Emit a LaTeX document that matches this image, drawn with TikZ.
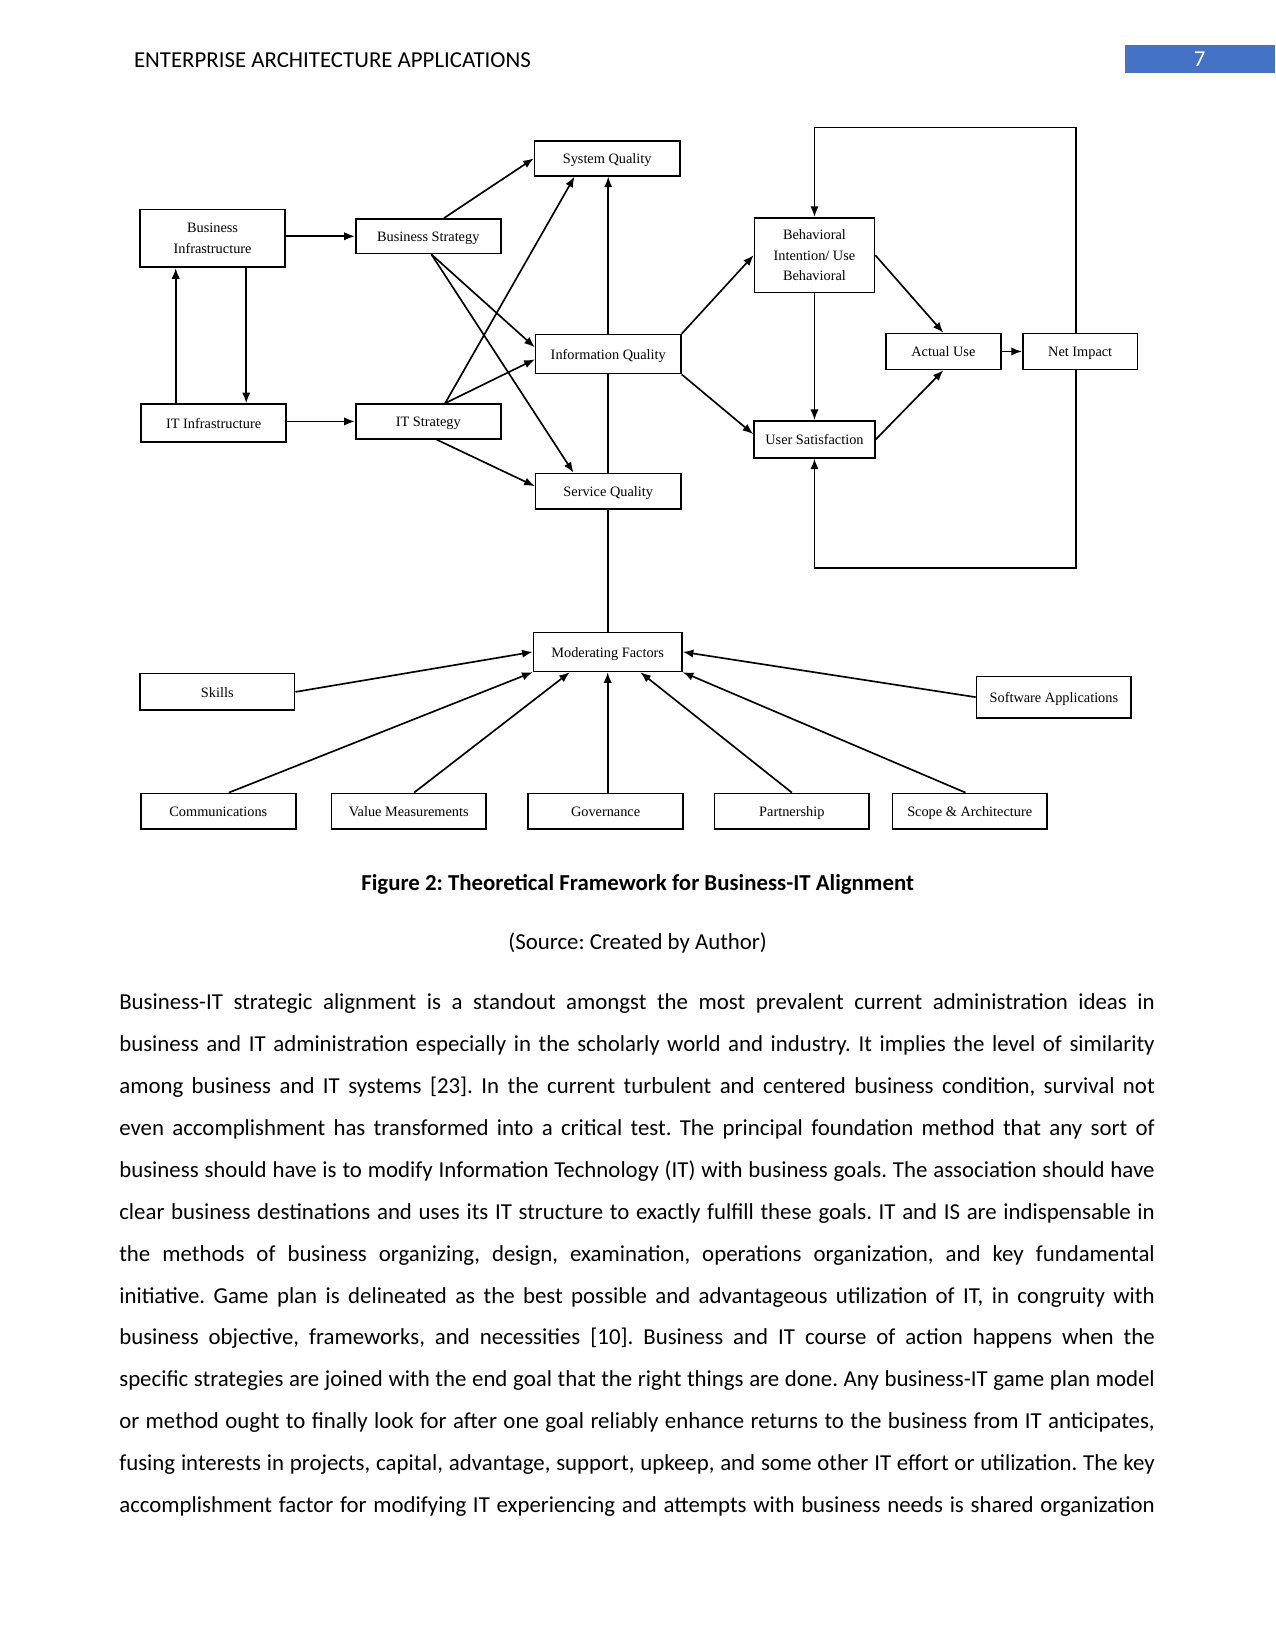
\documentclass[tikz,border=0pt]{standalone}
\usepackage{fontspec}
\setmainfont{Carlito}
\newfontfamily\figfont{Liberation Serif}
\usepackage{tikz}
\usetikzlibrary{calc,positioning,arrows.meta}
\definecolor{hdrblue}{RGB}{68,114,196}
\newcommand{\bodyline}[1]{\makebox[175.3mm][s]{#1}}
\tikzset{
  fwbox/.style={draw, line width=0.8pt, font=\figfont\fontsize{6.9}{10}\selectfont, align=center, inner sep=1pt},
  fwone/.style={fwbox, text height=1.5ex, text depth=0.45ex},
  sz/.style 2 args={minimum width=#1*0.17814mm, minimum height=#2*0.17814mm},
  arr/.style={line width=0.8pt, -{Latex[length=1.8mm,width=1.4mm]}},
  lnk/.style={line width=0.8pt},
}

\begin{document}
\frenchspacing
\begin{tikzpicture}[x=0.17814mm, y=-0.17814mm, font=\fontsize{11}{13.4}\selectfont]
  \fill[white] (0,0) rectangle (1212,1568);
  \useasboundingbox (0,0) rectangle (1212,1568);

  % header
  \node[anchor=west, inner sep=0] (hdr) at (127,57) {ENTERPRISE ARCHITECTURE APPLICATIONS};
  \fill[hdrblue] (1069,43) rectangle (1212,69);
  \node[white] (pgno) at (1140,56) {7};

  % upper part of the framework
  \node[fwbox, sz={138}{55}] (binf) at (202,226.5) {Business\\Infrastructure};
  \node[fwone, sz={138}{33}] (bstr) at (407,224.5) {Business Strategy};
  \node[fwone, sz={138}{36}] (itinf) at (203,402) {IT Infrastructure};
  \node[fwone, sz={138}{33}] (itstr) at (407,400.5) {IT Strategy};
  \node[fwone, sz={138}{33}] (sysq) at (577,150.5) {System Quality};
  \node[fwone, sz={138}{37}] (infoq) at (578,336.5) {Information Quality};
  \node[fwone, sz={138}{34}] (servq) at (578,467) {Service Quality};
  \node[fwbox, sz={114}{71}] (behav) at (774,242.5) {Behavioral\\Intention/ Use\\Behavioral};
  \node[fwone, sz={109}{34}] (actuse) at (896.5,334) {Actual Use};
  \node[fwone, sz={109}{34}] (netimp) at (1026.5,334) {Net Impact};
  \node[fwone, sz={115}{35}] (usat) at (774,417.5) {User Satisfaction};

  % moderating factors
  \node[fwone, sz={141}{37}] (modf) at (577.5,619.5) {Moderating Factors};
  \node[fwone, sz={147}{35}] (skills) at (206.5,657.5) {Skills};
  \node[fwone, sz={147}{39}] (softapp) at (1001.5,662.5) {Software Applications};
  \foreach \nm/\cx/\txt in {comm/207.5/Communications, valm/388.5/Value Measurements,
      gov/575.5/Governance, partn/752.5/Partnership, scope/921.5/Scope \& Architecture}{
    \node[fwone, sz={147}{34}] (\nm) at (\cx,771) {\txt};
  }

  \coordinate (ytop) at (0,121);
  \coordinate (ybot) at (0,540);

  % connectors
  \draw[arr] (binf.east |- bstr.west) -- (bstr.west);
  \draw[arr] (itinf.east |- itstr.west) -- (itstr.west);
  \draw[arr] ($(binf.south)+(32,0)$) -- ($(itinf.north)+(31,0)$);
  \draw[arr] ($(itinf.north)+(-36,0)$) -- ($(binf.south)+(-35,0)$);
  \draw[arr] ($(bstr.north)+(15,0)$) -- (sysq.west);
  \draw[arr] ($(bstr.south)+(3,0)$) -- ($(infoq.west)+(0,-6.5)$);
  \draw[arr] ($(bstr.south)+(3,0)$) -- ($(servq.north)+(-33,0)$);
  \draw[arr] ($(itstr.north)+(16,0)$) -- ($(sysq.south)+(-31,0)$);
  \draw[arr] ($(itstr.north)+(16,0)$) -- ($(infoq.west)+(0,5)$);
  \draw[arr] ($(itstr.south)+(8,0)$) -- ($(servq.west)+(0,-5)$);
  \draw[arr] (infoq.north) -- (infoq.north |- sysq.south);
  \draw[lnk] (infoq.south) -- (infoq.south |- servq.north);
  \draw[lnk] (servq.south) -- (servq.south |- modf.north);
  \draw[arr] (infoq.north east) -- (behav.west);
  \draw[arr] (infoq.south east) -- ($(usat.west)+(0,-5)$);
  \draw[arr] (behav.south) -- (behav.south |- usat.north);
  \draw[arr] (behav.east) -- (actuse.north);
  \draw[arr] (usat.east) -- (actuse.south);
  \draw[arr] (actuse) -- (netimp);
  \draw[arr] ($(netimp.north)+(-4,0)$) |- (ytop -| behav.north) -- (behav.north);
  \draw[arr] ($(netimp.south)+(-4,0)$) |- (ybot -| usat.south) -- (usat.south);

  \draw[arr] (skills.east) -- (modf.west);
  \draw[arr] (softapp.west) -- (modf.east);
  \draw[arr] ($(comm.north)+(10,0)$) -- (modf.south west);
  \draw[arr] ($(valm.north)+(5,0)$) -- ($(modf.south)+(-36,0)$);
  \draw[arr] (modf.south |- gov.north) -- (modf.south);
  \draw[arr] (partn.north) -- ($(modf.south)+(31,0)$);
  \draw[arr] ($(scope.north)+(-4,0)$) -- (modf.south east);

  % caption and text
  \node[font=\fontsize{11}{13.4}\selectfont\bfseries] (cap) at (606,840) {Figure 2: Theoretical Framework for Business-IT Alignment};
  \node (src) at (606,896) {(Source: Created by Author)};
  \node[anchor=north west, inner sep=0, align=left, font=\fontsize{11}{20.19}\selectfont] (body) at (113,944) {%
\bodyline{Business-IT strategic alignment is a standout amongst the most prevalent current administration ideas in}\\
\bodyline{business and IT administration especially in the scholarly world and industry. It implies the level of similarity}\\
\bodyline{among business and IT systems [23]. In the current turbulent and centered business condition, survival not}\\
\bodyline{even accomplishment has transformed into a critical test. The principal foundation method that any sort of}\\
\bodyline{business should have is to modify Information Technology (IT) with business goals. The association should have}\\
\bodyline{clear business destinations and uses its IT structure to exactly fulfill these goals. IT and IS are indispensable in}\\
\bodyline{the methods of business organizing, design, examination, operations organization, and key fundamental}\\
\bodyline{initiative. Game plan is delineated as the best possible and advantageous utilization of IT, in congruity with}\\
\bodyline{business objective, frameworks, and necessities [10]. Business and IT course of action happens when the}\\
\bodyline{specific strategies are joined with the end goal that the right things are done. Any business-IT game plan model}\\
\bodyline{or method ought to finally look for after one goal reliably enhance returns to the business from IT anticipates,}\\
\bodyline{fusing interests in projects, capital, advantage, support, upkeep, and some other IT effort or utilization. The key}\\
\bodyline{accomplishment factor for modifying IT experiencing and attempts with business needs is shared organization}};
\end{tikzpicture}
\end{document}
